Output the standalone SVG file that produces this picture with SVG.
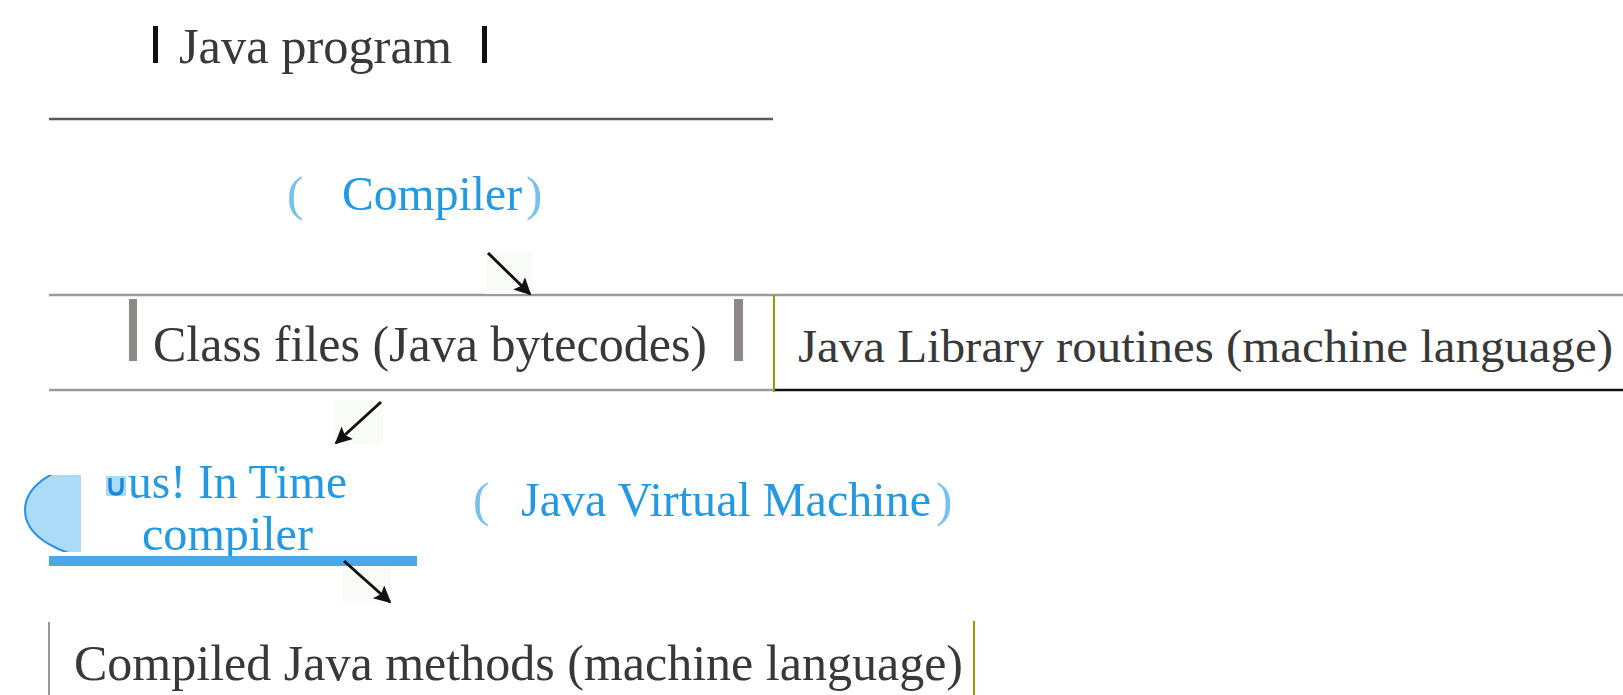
<svg xmlns="http://www.w3.org/2000/svg" width="1623" height="695" viewBox="0 0 1623 695">
<style>
.dark{font-family:"Liberation Serif","Times New Roman",serif;fill:#383838;font-size:50px}
.blue{font-family:"Liberation Serif","Times New Roman",serif;fill:#2299e2;font-size:49px}
.paren{fill:#78c0ef}
.gl{stroke:#9a9a9a;stroke-width:2.5;fill:none}
.arr{stroke:#111;stroke-width:3;fill:none;marker-end:url(#ah)}
.abg{fill:#f9fbf9}
</style>
<defs>
<marker id="ah" viewBox="0 0 10 10" refX="9" refY="5" markerWidth="21" markerHeight="17" markerUnits="userSpaceOnUse" orient="auto">
<path d="M0,0 L10,5 L0,10 L2,5 Z" fill="#111"/>
</marker>
<clipPath id="jitclip"><rect x="24" y="475" width="57" height="77"/></clipPath>
</defs>
<rect width="1623" height="695" fill="#fff"/>

<g id="java-program">
<rect x="153" y="26" width="5" height="37" fill="#111"/>
<text class="dark" x="179" y="63" textLength="273" lengthAdjust="spacingAndGlyphs">Java program</text>
<rect x="482" y="26" width="5" height="37" fill="#111"/>
<line x1="49" y1="119" x2="773" y2="119" stroke="#5a5a5a" stroke-width="2.5"/>
</g>

<g id="compiler">
<text class="blue" x="287" y="210"><tspan class="paren">(</tspan></text>
<text class="blue" x="342" y="210" textLength="180" lengthAdjust="spacingAndGlyphs">Compiler</text>
<text class="blue" x="526" y="210"><tspan class="paren">)</tspan></text>
</g>

<g id="class-files">
<line class="gl" x1="49" y1="295" x2="1623" y2="295"/>
<line class="gl" x1="49" y1="390" x2="774" y2="390"/>
<rect x="129" y="299" width="8" height="62" fill="#8e8989"/>
<text class="dark" x="153" y="361" textLength="554" lengthAdjust="spacingAndGlyphs">Class files (Java bytecodes)</text>
<rect x="734" y="299" width="9" height="62" fill="#8e8989"/>
</g>

<g id="java-library">
<line x1="774" y1="390" x2="1623" y2="390" stroke="#111" stroke-width="2.5"/>
<line x1="774" y1="295" x2="774" y2="392" stroke="#9a9a00" stroke-width="2"/>
<text class="dark" x="798" y="362" style="font-size:47px" textLength="815" lengthAdjust="spacingAndGlyphs">Java Library routines (machine language)</text>
</g>

<g id="jit-compiler">
<g clip-path="url(#jitclip)">
<ellipse cx="105" cy="510" rx="80" ry="48" fill="#aadcf8" stroke="#2a8fe0" stroke-width="2"/>
</g>
<rect x="106" y="476" width="20" height="20" fill="#aadcf8"/>
<path d="M110,478 L110,487 Q110,494 116,494 Q122,494 122,487 L122,478" fill="none" stroke="#1f86dc" stroke-width="3.5"/>
<text class="blue" x="128" y="498" textLength="219" lengthAdjust="spacingAndGlyphs">us! In Time</text>
<text class="blue" x="142" y="550" textLength="171" lengthAdjust="spacingAndGlyphs">compiler</text>
<rect x="49" y="556" width="368" height="10" fill="#4aa8e8"/>
</g>

<g id="jvm">
<text class="blue" x="473" y="516"><tspan class="paren">(</tspan></text>
<text class="blue" x="521" y="516" textLength="410" lengthAdjust="spacingAndGlyphs">Java Virtual Machine</text>
<text class="blue" x="936" y="516"><tspan class="paren">)</tspan></text>
</g>

<g id="compiled-methods">
<line x1="49" y1="622" x2="49" y2="695" stroke="#999" stroke-width="2"/>
<text class="dark" x="74" y="680" textLength="889" lengthAdjust="spacingAndGlyphs">Compiled Java methods (machine language)</text>
<line x1="974" y1="621" x2="974" y2="695" stroke="#9a9a00" stroke-width="2"/>
</g>

<g id="connectors">
<rect class="abg" x="486" y="251" width="46" height="43"/>
<line class="arr" x1="488" y1="253" x2="530" y2="294"/>
<rect class="abg" x="334" y="400" width="49" height="44"/>
<line class="arr" x1="381" y1="402" x2="336" y2="443"/>
<rect class="abg" x="342" y="567" width="49" height="36"/>
<line class="arr" x1="344" y1="561" x2="390" y2="602"/>
</g>
</svg>
